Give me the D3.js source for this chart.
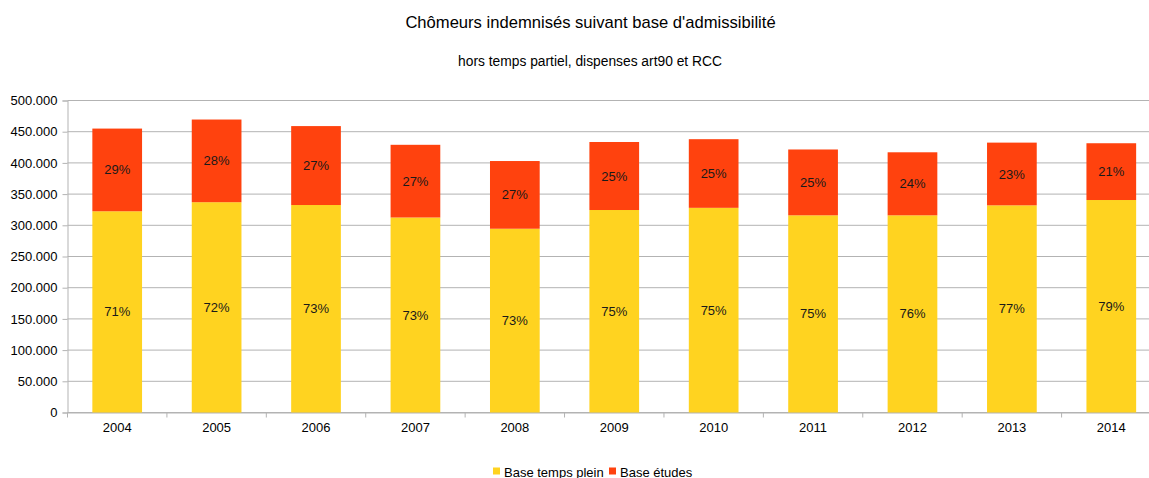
<!DOCTYPE html>
<html><head><meta charset="utf-8">
<script src="https://cdn.jsdelivr.net/npm/d3@7"></script>
<style>body{margin:0;background:#fff}svg{display:block;font-family:"Liberation Sans",Arial,sans-serif}</style>
</head><body><svg id="c" width="1149" height="478"></svg>
<script>
const years = ["2004","2005","2006","2007","2008","2009","2010","2011","2012","2013","2014"];
const basePlein = [322500, 337000, 332500, 312500, 294500, 324500, 328000, 316000, 316000, 332000, 340500];
const baseEtudes = [132500, 132500, 126500, 116500, 108500, 109000, 110000, 105500, 101000, 100500, 91000];
const pctPlein = ["71%","72%","73%","73%","73%","75%","75%","75%","76%","77%","79%"];
const pctEtudes = ["29%","28%","27%","27%","27%","25%","25%","25%","24%","23%","21%"];
const yTicks = [0,50000,100000,150000,200000,250000,300000,350000,400000,450000,500000];
const seriesNames = ["Base temps plein","Base études"];
const colors = ["#FFD320","#FF420E"];

(function(){
const svg = d3.select("#c");
const pLeft = 67.5, pRight = 1161, pTop = 100.5, pBottom = 412.5;
const x = d3.scaleBand().domain(years).range([pLeft, pRight]).paddingInner(0.5).paddingOuter(0.25);
const y = d3.scaleLinear().domain([0, 500000]).range([pBottom, pTop]);
const fmtTick = v => v === 0 ? "0" : (Math.floor(v/1000)) + "." + String(v%1000).padStart(3,"0");

// gridlines
svg.append("g").selectAll("line").data(yTicks).join("line")
  .attr("x1", pLeft).attr("x2", pRight).attr("y1", d => y(d)).attr("y2", d => y(d))
  .attr("stroke", "#b3b3b3").attr("stroke-width", 1);

// y axis
const yAxis = svg.append("g").attr("transform", `translate(${pLeft},0)`)
  .call(d3.axisLeft(y).tickValues(yTicks).tickFormat(fmtTick).tickSize(5).tickPadding(5));
yAxis.select(".domain").attr("stroke", "#b3b3b3");
yAxis.selectAll(".tick line").attr("stroke", "#b3b3b3");
yAxis.selectAll("text").attr("font-size", 13).attr("fill", "#000").attr("font-family", "Liberation Sans, Arial, sans-serif");

// x axis
const xAxis = svg.append("g").attr("transform", `translate(0,${pBottom})`)
  .call(d3.axisBottom(x).tickSize(0).tickPadding(10));
xAxis.select(".domain").attr("stroke", "#b3b3b3");
xAxis.selectAll("text").attr("font-size", 13).attr("fill", "#000").attr("font-family", "Liberation Sans, Arial, sans-serif");
const step = x.step();
svg.append("g").selectAll("line").data(d3.range(years.length + 1)).join("line")
  .attr("x1", i => pLeft + i*step).attr("x2", i => pLeft + i*step)
  .attr("y1", pBottom).attr("y2", pBottom + 5).attr("stroke", "#b3b3b3");

// stacked bars
const data = years.map((yr, i) => ({year: yr, plein: basePlein[i], etudes: baseEtudes[i]}));
const stack = d3.stack().keys(["plein","etudes"])(data);
const pcts = [pctPlein, pctEtudes];
stack.forEach((s, si) => {
  const g = svg.append("g");
  g.selectAll("rect").data(s).join("rect")
    .attr("x", d => x(d.data.year)).attr("width", x.bandwidth())
    .attr("y", d => y(d[1])).attr("height", d => y(d[0]) - y(d[1]))
    .attr("fill", colors[si]);
  g.selectAll("text").data(s).join("text")
    .attr("x", d => x(d.data.year) + x.bandwidth()/2)
    .attr("y", d => (y(d[0]) + y(d[1]))/2)
    .attr("dy", "0.35em").attr("text-anchor", "middle")
    .attr("font-size", 13).attr("fill", "#1a1a1a")
    .text((d, i) => pcts[si][i]);
});

// titles
svg.append("text").attr("x", 590.5).attr("y", 28).attr("text-anchor", "middle")
  .attr("font-size", 16.6).attr("fill", "#000").text("Chômeurs indemnisés suivant base d'admissibilité");
svg.append("text").attr("x", 590).attr("y", 66).attr("text-anchor", "middle")
  .attr("font-size", 13.8).attr("fill", "#000").text("hors temps partiel, dispenses art90 et RCC");

// legend
const legendX = [493, 609];
seriesNames.forEach((n, i) => {
  svg.append("rect").attr("x", legendX[i]).attr("y", 467.5).attr("width", 7).attr("height", 7).attr("fill", colors[i]);
  svg.append("text").attr("x", legendX[i] + 11).attr("y", 476.5).attr("font-size", 13).attr("fill", "#000").text(n);
});
})();
</script></body></html>
